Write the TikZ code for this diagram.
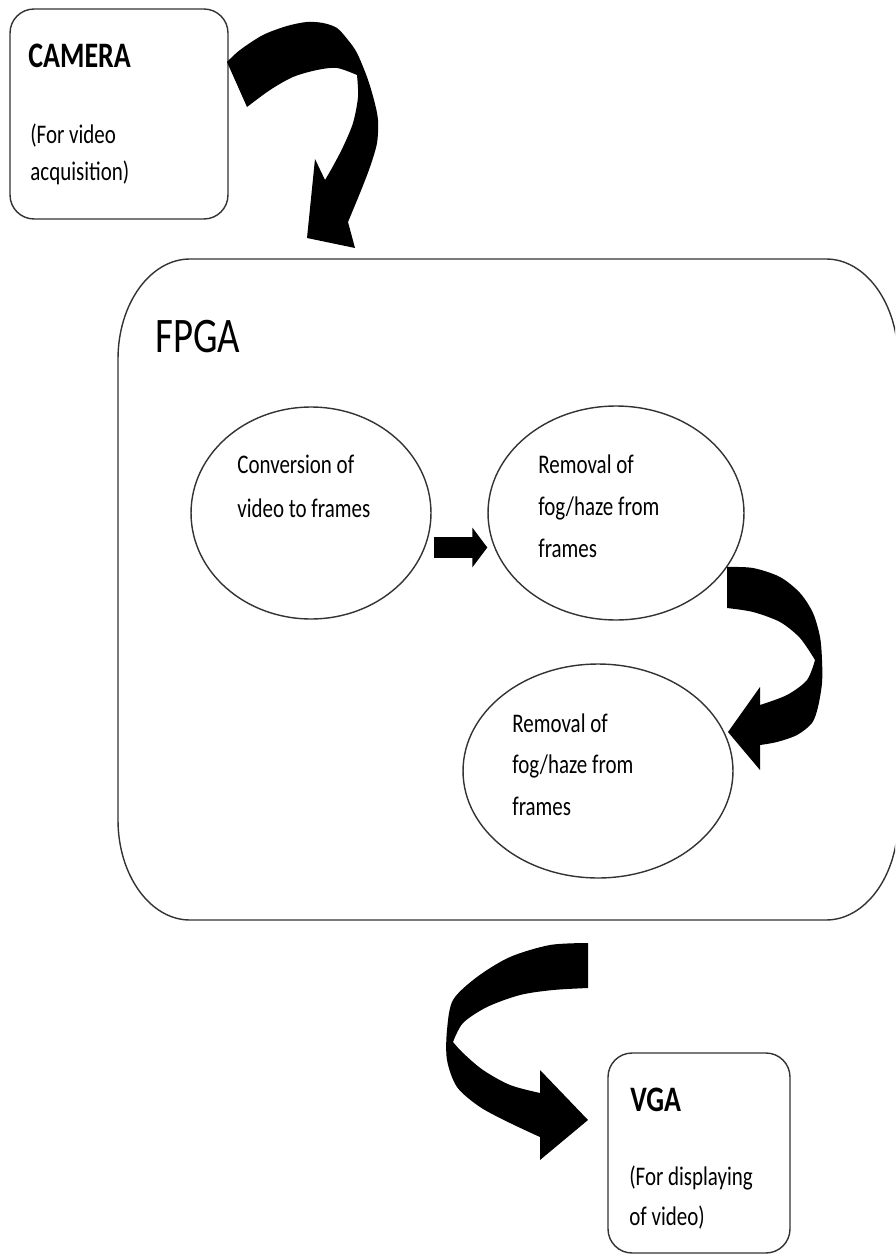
\documentclass[tikz,border=0pt]{standalone}
\usepackage{fontspec}
\setmainfont{Carlito}[FakeStretch=0.78]
\usetikzlibrary{shapes.geometric,arrows.meta}
\begin{document}
\begin{tikzpicture}[x=0.02cm,y=-0.02cm]
\tikzset{
  boxline/.style={draw=black!80, line width=0.8pt},
  sidebox/.style={boxline, rectangle, rounded corners=0.48cm, inner sep=0pt},
  stagecell/.style={boxline, ellipse, inner sep=0pt},
  txt/.style={anchor=base west, inner sep=0pt, font=\fontsize{15.3}{18}\selectfont},
  headtxt/.style={anchor=base west, inner sep=0pt, font=\fontsize{20.4}{24}\selectfont\bfseries},
  bigtxt/.style={anchor=base west, inner sep=0pt, font=\fontsize{28.3}{32}\selectfont},
  blockarrow/.style={fill=black, draw=none},
}
\useasboundingbox (0,0) rectangle (895,1256);
\clip (0,0) rectangle (895,1256);
\fill[white] (0,0) rectangle (895,1256);

% FPGA container
\node[minimum width=15.6cm, minimum height=13.22cm, inner sep=0pt] (fpga) at (508,589.5) {};
\draw[boxline] (118,359) .. controls (118,303.8) and (150.2,259) .. (190,259)
  -- (826,259) .. controls (865.8,259) and (898,303.8) .. (898,359)
  -- (898,820) .. controls (898,875.2) and (865.8,920) .. (826,920)
  -- (190,920) .. controls (150.2,920) and (118,875.2) .. (118,820) -- cycle;
\node[bigtxt] (fpgat) at (155,353) {FPGA};

% CAMERA box
\node[sidebox, minimum width=4.36cm, minimum height=4.2cm] (cam) at (119,114) {};
\node[headtxt] (camt) at (28,68) {CAMERA};
\node[txt] (cam1) at (30,144) {(For video};
\node[txt] (cam2) at (30,181) {acquisition)};

% VGA box
\node[sidebox, minimum width=3.64cm, minimum height=4.0cm] (vga) at (699,1153) {};
\node[headtxt] (vgat) at (630,1111) {VGA};
\node[txt] (vga1) at (629,1185) {(For displaying};
\node[txt] (vga2) at (629,1225) {of video)};

% Ellipses
\node[stagecell, minimum width=4.8cm, minimum height=4.24cm] (e1) at (311,513) {};
\node[txt] (e1a) at (237,473) {Conversion of};
\node[txt] (e1b) at (237,517) {video to frames};

\node[stagecell, minimum width=5.12cm, minimum height=4.28cm] (e2) at (616,513) {};
\node[txt] (e2a) at (538,473) {Removal of};
\node[txt] (e2b) at (538,515) {fog/haze from};
\node[txt] (e2c) at (538,557) {frames};

\node[stagecell, minimum width=5.4cm, minimum height=4.28cm] (e3) at (598,771) {};
\node[txt] (e3a) at (512,732) {Removal of};
\node[txt] (e3b) at (512,773) {fog/haze from};
\node[txt] (e3c) at (512,815) {frames};

% small straight arrow e1 -> e2
\draw[line width=0.42cm, -{Triangle[length=0.3cm,width=0.78cm]}]
  ([shift={(0.04cm,-0.69cm)}]e1.east) -- ([yshift=-0.69cm]e2.west);

% curved block arrow: camera -> FPGA
\fill[blockarrow] plot[smooth] coordinates {(227,62) (240,50) (263,35) (287,26) (307,22) (323,23) (337,28) (348,40) (357,53) (367,77) (374,100) (378,120) (377,143) (370,167) (360,193) (348,222)}
  -- (355,248) -- (307,238) -- (315,159)
  -- plot[smooth] coordinates {(325,180) (332,168) (343,147) (353,123) (358,97) (357,75)}
  -- plot[smooth] coordinates {(357,75) (337,68) (317,70) (293,77) (270,90) (247,107)}
  -- cycle;

% curved block arrow: e2 -> e3
\fill[blockarrow] plot[smooth] coordinates {(727,567) (753,568) (780,577) (800,593) (813,613) (820,637) (822,660) (822,683) (818,707) (812,723) (797,735) (777,742) (760,745)}
  -- (760,770) -- (728,732) -- (760,687)
  -- plot[smooth] coordinates {(760,705) (787,695) (807,680) (815,660)}
  -- plot[smooth] coordinates {(815,660) (800,638) (780,622) (753,612) (727,608)}
  -- cycle;

% curved block arrow: FPGA -> VGA
\fill[blockarrow] plot[smooth] coordinates {(588,943) (550,945) (510,957) (477,977) (453,1000) (447,1030) (447,1060) (457,1087) (480,1107) (510,1123) (540,1137)}
  -- (540,1160) -- (588,1120) -- (540,1070)
  -- plot[smooth] coordinates {(540,1093) (510,1085) (483,1070) (463,1053) (453,1042)}
  -- plot[smooth] coordinates {(453,1042) (463,1023) (487,1007) (520,995) (553,990) (588,988)}
  -- cycle;
\end{tikzpicture}
\end{document}
